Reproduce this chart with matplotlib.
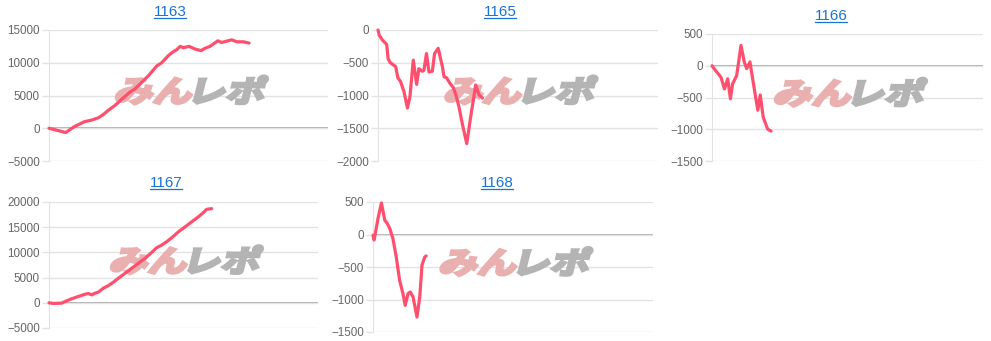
import matplotlib
matplotlib.use('Agg')
import matplotlib.pyplot as plt
from matplotlib.textpath import TextPath
from matplotlib.font_manager import FontProperties
from matplotlib.patches import PathPatch
from matplotlib.transforms import Affine2D, ScaledTranslation
from matplotlib.lines import Line2D

plt.rcParams['font.family'] = ['Liberation Sans', 'DejaVu Sans']

# данные: x в долях ширины графика (0..100), y - разница в медалях
names = ['1163', '1165', '1166', '1167', '1168']

x_1163 = [0, 6.0, 9.1, 12.7, 15.3, 17.7, 19.5, 21.3, 23.7, 26.0, 29.0, 30.8, 33.2, 35.6,
          38.6, 40.4, 42.8, 44.6, 45.8, 47.0, 48.1, 50.2, 52.3, 54.5, 55.9, 57.7, 60.5,
          61.9, 65.5, 67.3, 69.7, 71.7]
y_1163 = [0, -650, 250, 1000, 1250, 1600, 2100, 2750, 3500, 4400, 5500, 6000, 7000, 8000,
          9500, 10000, 11100, 11700, 12000, 12500, 12300, 12500, 12100, 11850, 12200, 12500,
          13350, 13100, 13500, 13200, 13200, 13000]

x_1165 = [0, 0.4, 1.5, 3.1, 3.6, 4.3, 5.7, 6.3, 7.1, 8.1, 9.3, 10.5, 11.4, 12.6, 13.8, 14.6,
          15.8, 16.4, 17.3, 18.2, 19.4, 20.2, 21.5, 23.0, 23.6, 24.5, 25.7, 26.9, 27.7, 28.9,
          30.1, 31.7, 33.1, 34.9, 36.1, 37.3]
y_1165 = [0, -75, -150, -220, -435, -495, -540, -560, -730, -790, -945, -1190, -1020, -460,
          -830, -590, -630, -615, -360, -640, -630, -360, -280, -560, -715, -730, -815, -880,
          -970, -1170, -1430, -1735, -1325, -840, -990, -1040]

x_1166 = [0, 1.5, 3.3, 4.6, 5.8, 6.8, 7.6, 9.1, 10.7, 11.9, 12.8, 14.0, 15.6, 16.9, 17.8,
          18.9, 20.5, 21.8]
y_1166 = [0, -85, -180, -365, -205, -520, -285, -155, 320, 60, -45, 60, -365, -700, -460,
          -810, -995, -1030]

x_1167 = [0, 1.6, 4.7, 6.6, 8.4, 10.9, 13.4, 14.6, 15.9, 17.1, 18.3, 20.2, 22.1, 23.9, 25.8,
          28.3, 30.7, 33.2, 35.7, 38.2, 40.0, 41.9, 43.7, 45.6, 48.1, 50.6, 53.0, 55.5, 57.4,
          58.6, 60.5]
y_1167 = [0, -130, -65, 400, 790, 1250, 1700, 1840, 1580, 1900, 2100, 2900, 3420, 4080, 4870,
          5860, 6840, 7830, 8820, 10000, 10920, 11450, 12100, 12900, 14080, 15070, 16050,
          17040, 17900, 18550, 18680]

x_1168 = [0, 0.4, 1.8, 3.0, 4.2, 5.1, 6.0, 7.1, 8.3, 9.5, 10.7, 11.5, 12.5, 13.3, 14.3, 15.7,
          16.7, 17.5, 18.5, 19.0]
y_1168 = [-10, -85, 250, 485, 220, 170, 90, -60, -345, -705, -910, -1090, -910, -885, -960,
          -1270, -960, -470, -345, -330]

xs = [x_1163, x_1165, x_1166, x_1167, x_1168]
ys = [y_1163, y_1165, y_1166, y_1167, y_1168]
yticks = [[-5000, 0, 5000, 10000, 15000],
          [-2000, -1500, -1000, -500, 0],
          [-1500, -1000, -500, 0, 500],
          [-5000, 0, 5000, 10000, 15000, 20000],
          [-1500, -1000, -500, 0, 500]]

W, H = 991, 341
# положение осей в пикселях: левый, правый, верх, низ
boxes = [(49, 328, 30, 161), (378, 658, 30, 161), (712, 983, 34, 161),
         (49, 318, 202, 328), (373, 653, 202, 332)]
titles_xy = [(170, 12), (500, 12), (831, 16), (166, 183), (497, 183)]

fig = plt.figure(figsize=(W / 100, H / 100), dpi=100)

jp = FontProperties(family='Noto Sans CJK JP', weight='bold')


def watermark(ax):
    # логотип "みんレポ" полупрозрачный, наклонный
    p1 = TextPath((0, 0), 'みん', size=30, prop=jp)
    p2 = TextPath((0, 0), 'レポ', size=30, prop=jp)
    e1 = p1.get_extents()
    e2 = p2.get_extents()
    sx = 1.3
    gap = 4
    w1 = e1.width * sx
    w2 = e2.width * sx
    total = w1 + gap + w2
    hh = max(e1.y1, e2.y1)
    base = ScaledTranslation(0.5, 0.55, ax.transAxes)
    t1 = (Affine2D().translate(-e1.x0, 0).scale(sx, 1).skew_deg(14, 0)
          .translate(-total / 2, -hh / 2) + base)
    t2 = (Affine2D().translate(-e2.x0, 0).scale(sx, 1).skew_deg(14, 0)
          .translate(-total / 2 + w1 + gap, -hh / 2) + base)
    ax.add_patch(PathPatch(p1, transform=t1, facecolor='#eab0b0', edgecolor='#eab0b0',
                           lw=2.2, zorder=2, clip_on=False))
    ax.add_patch(PathPatch(p2, transform=t2, facecolor='#b4b4b4', edgecolor='#b4b4b4',
                           lw=2.2, zorder=2, clip_on=False))


for i in range(5):
    l, r, t, b = boxes[i]
    ax = fig.add_axes([l / W, 1 - b / H, (r - l) / W, (b - t) / H])
    ticks = yticks[i]
    ax.set_xlim(0, 100)
    ax.set_ylim(ticks[0], ticks[-1])
    ax.set_yticks(ticks)
    ax.set_xticks([])
    ax.grid(axis='y', color='#e3e3e3', lw=1, zorder=0)
    ax.axhline(0, color='#999999', lw=1.1, zorder=1)
    for s in ['top', 'right', 'bottom']:
        ax.spines[s].set_visible(False)
    ax.spines['left'].set_color('#e3e3e3')
    ax.tick_params(axis='y', length=5, width=1, color='#e3e3e3', pad=1.5,
                   labelsize=8.4, labelcolor='#666666')
    watermark(ax)
    ax.plot(xs[i], ys[i], color='#ff4f6e', lw=2.3, solid_joinstyle='round',
            solid_capstyle='round', zorder=4, clip_on=False)

# заголовки-ссылки с подчёркиванием
title_texts = []
for i in range(5):
    tx, ty = titles_xy[i]
    tt = fig.text(tx / W, 1 - ty / H, names[i], ha='center', va='center',
                  color='#1a73d9', fontsize=11)
    title_texts.append(tt)

fig.canvas.draw()
renderer = fig.canvas.get_renderer()
for tt in title_texts:
    bb = tt.get_window_extent(renderer)
    yline = (bb.y0 + 1) / H
    fig.add_artist(Line2D([bb.x0 / W, bb.x1 / W], [yline, yline], color='#1a73d9', lw=0.9))

fig.savefig('out.png', dpi=100)
